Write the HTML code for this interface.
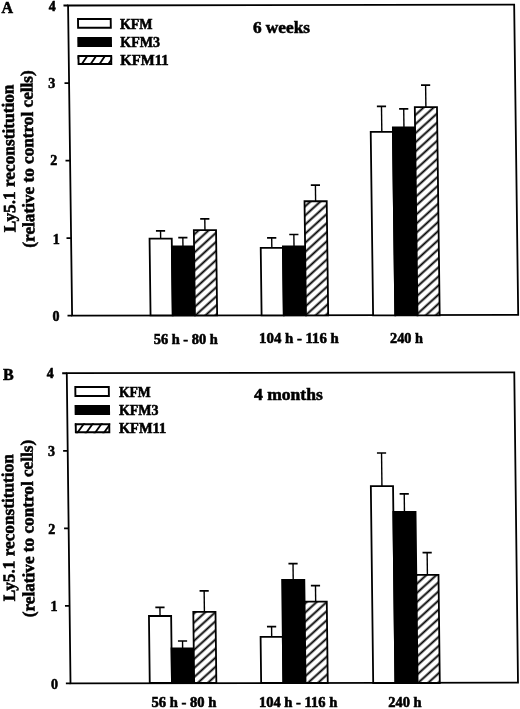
<!DOCTYPE html>
<html><head><meta charset="utf-8"><title>Ly5.1 reconstitution</title>
<style>
html,body{margin:0;padding:0;background:#fff;}
body{width:520px;height:709px;overflow:hidden;}
svg{display:block;will-change:transform;}
text{font-family:"Liberation Serif",serif;font-weight:bold;fill:#000;stroke:#000;stroke-width:0.55px;}
</style></head>
<body>
<svg width="520" height="709" viewBox="0 0 520 709">
<defs>
<pattern id="hatch" patternUnits="userSpaceOnUse" width="20" height="6.7" patternTransform="rotate(-42)">
<rect x="0" y="0" width="20" height="6.7" fill="#fff"/>
<line x1="0" y1="3.35" x2="20" y2="3.35" stroke="#000" stroke-width="1.9"/>
</pattern>
<pattern id="lhatch" patternUnits="userSpaceOnUse" width="20" height="6.6" patternTransform="rotate(-50)">
<rect x="0" y="0" width="20" height="6.6" fill="#fff"/>
<line x1="0" y1="3.3" x2="20" y2="3.3" stroke="#000" stroke-width="1.7"/>
</pattern>
</defs>
<rect width="520" height="709" fill="#fff"/>
<g transform="matrix(1,0,0.0130,1,-4.099,0)">
<g transform="matrix(1,-0.00180,0,1,0,0.531)">
<rect x="72.1" y="5.1" width="446.1" height="310.2" fill="none" stroke="#000" stroke-width="1.8"/>
<line x1="67.5" y1="315.3" x2="72.1" y2="315.3" stroke="#000" stroke-width="1.8"/>
<line x1="67.5" y1="237.75" x2="72.1" y2="237.75" stroke="#000" stroke-width="1.8"/>
<line x1="67.5" y1="160.2" x2="72.1" y2="160.2" stroke="#000" stroke-width="1.8"/>
<line x1="67.5" y1="82.65" x2="72.1" y2="82.65" stroke="#000" stroke-width="1.8"/>
<line x1="67.5" y1="5.1" x2="72.1" y2="5.1" stroke="#000" stroke-width="1.8"/>
</g>
<line x1="161.65" y1="230.9" x2="161.65" y2="238.7" stroke="#000" stroke-width="1.4"/>
<line x1="157.05" y1="230.9" x2="166.25" y2="230.9" stroke="#000" stroke-width="1.7"/>
<rect x="150.55" y="238.7" width="22.2" height="76.6" fill="#fff" stroke="#000" stroke-width="1.8"/>
<line x1="183.85" y1="237.7" x2="183.85" y2="246.3" stroke="#000" stroke-width="1.4"/>
<line x1="179.25" y1="237.7" x2="188.45" y2="237.7" stroke="#000" stroke-width="1.7"/>
<rect x="172.75" y="246.3" width="22.2" height="69" fill="#000" stroke="#000" stroke-width="1.8"/>
<line x1="206.05" y1="218.8" x2="206.05" y2="230.1" stroke="#000" stroke-width="1.4"/>
<line x1="201.45" y1="218.8" x2="210.65" y2="218.8" stroke="#000" stroke-width="1.7"/>
<rect x="194.95" y="230.1" width="22.2" height="85.2" fill="url(#hatch)" stroke="#000" stroke-width="1.8"/>
<line x1="272.7" y1="237.8" x2="272.7" y2="247.8" stroke="#000" stroke-width="1.4"/>
<line x1="268.1" y1="237.8" x2="277.3" y2="237.8" stroke="#000" stroke-width="1.7"/>
<rect x="261.6" y="247.8" width="22.2" height="67.5" fill="#fff" stroke="#000" stroke-width="1.8"/>
<line x1="294.9" y1="234.5" x2="294.9" y2="246.5" stroke="#000" stroke-width="1.4"/>
<line x1="290.3" y1="234.5" x2="299.5" y2="234.5" stroke="#000" stroke-width="1.7"/>
<rect x="283.8" y="246.5" width="22.2" height="68.8" fill="#000" stroke="#000" stroke-width="1.8"/>
<line x1="317.1" y1="185.1" x2="317.1" y2="201.25" stroke="#000" stroke-width="1.4"/>
<line x1="312.5" y1="185.1" x2="321.7" y2="185.1" stroke="#000" stroke-width="1.7"/>
<rect x="306" y="201.25" width="22.2" height="114.05" fill="url(#hatch)" stroke="#000" stroke-width="1.8"/>
<line x1="384.2" y1="106.3" x2="384.2" y2="131.8" stroke="#000" stroke-width="1.4"/>
<line x1="379.6" y1="106.3" x2="388.8" y2="106.3" stroke="#000" stroke-width="1.7"/>
<rect x="373.1" y="131.8" width="22.2" height="183.5" fill="#fff" stroke="#000" stroke-width="1.8"/>
<line x1="406.4" y1="108.8" x2="406.4" y2="127.4" stroke="#000" stroke-width="1.4"/>
<line x1="401.8" y1="108.8" x2="411" y2="108.8" stroke="#000" stroke-width="1.7"/>
<rect x="395.3" y="127.4" width="22.2" height="187.9" fill="#000" stroke="#000" stroke-width="1.8"/>
<line x1="428.6" y1="85.2" x2="428.6" y2="107.2" stroke="#000" stroke-width="1.4"/>
<line x1="424" y1="85.2" x2="433.2" y2="85.2" stroke="#000" stroke-width="1.7"/>
<rect x="417.5" y="107.2" width="22.2" height="208.1" fill="url(#hatch)" stroke="#000" stroke-width="1.8"/>
<rect x="81.85" y="19.05" width="32.7" height="8.7" fill="#fff" stroke="#000" stroke-width="1.9"/>
<rect x="80.9" y="37" width="34.6" height="10.1" fill="#000"/>
<clipPath id="lcA"><rect x="80.9" y="55" width="34.6" height="10"/></clipPath>
<g clip-path="url(#lcA)" stroke="#000" stroke-width="1.8">
<line x1="72.35" y1="69.7" x2="85.55" y2="50.5"/>
<line x1="81.2" y1="69.7" x2="94.4" y2="50.5"/>
<line x1="90.05" y1="69.7" x2="103.25" y2="50.5"/>
<line x1="98.9" y1="69.7" x2="112.1" y2="50.5"/>
<line x1="107.75" y1="69.7" x2="120.95" y2="50.5"/>
<line x1="116.6" y1="69.7" x2="129.8" y2="50.5"/>
<line x1="125.45" y1="69.7" x2="138.65" y2="50.5"/>
</g>
<rect x="81.85" y="55.95" width="32.7" height="8.1" fill="none" stroke="#000" stroke-width="1.9"/>
<text text-anchor="middle" style="font-size:17.2px" transform="translate(16.5,158.35) rotate(-90)" textLength="147.65" lengthAdjust="spacingAndGlyphs">Ly5.1 reconstitution</text>
<text text-anchor="middle" style="font-size:17.2px" transform="translate(35.5,158.95) rotate(-90)">(relative to control cells)</text>
</g>
<g transform="matrix(1,0,0.0120,1,-8.196,0)">
<g transform="matrix(1,-0.00190,0,1,0,0.560)">
<rect x="70.5" y="372.8" width="447.5" height="310.2" fill="none" stroke="#000" stroke-width="1.8"/>
<line x1="65.9" y1="683" x2="70.5" y2="683" stroke="#000" stroke-width="1.8"/>
<line x1="65.9" y1="605.45" x2="70.5" y2="605.45" stroke="#000" stroke-width="1.8"/>
<line x1="65.9" y1="527.9" x2="70.5" y2="527.9" stroke="#000" stroke-width="1.8"/>
<line x1="65.9" y1="450.35" x2="70.5" y2="450.35" stroke="#000" stroke-width="1.8"/>
<line x1="65.9" y1="372.8" x2="70.5" y2="372.8" stroke="#000" stroke-width="1.8"/>
</g>
<line x1="160.85" y1="607.4" x2="160.85" y2="616" stroke="#000" stroke-width="1.4"/>
<line x1="156.25" y1="607.4" x2="165.45" y2="607.4" stroke="#000" stroke-width="1.7"/>
<rect x="149.75" y="616" width="22.2" height="67" fill="#fff" stroke="#000" stroke-width="1.8"/>
<line x1="183.05" y1="641" x2="183.05" y2="648.5" stroke="#000" stroke-width="1.4"/>
<line x1="178.45" y1="641" x2="187.65" y2="641" stroke="#000" stroke-width="1.7"/>
<rect x="171.95" y="648.5" width="22.2" height="34.5" fill="#000" stroke="#000" stroke-width="1.8"/>
<line x1="205.25" y1="590.8" x2="205.25" y2="611.8" stroke="#000" stroke-width="1.4"/>
<line x1="200.65" y1="590.8" x2="209.85" y2="590.8" stroke="#000" stroke-width="1.7"/>
<rect x="194.15" y="611.8" width="22.2" height="71.2" fill="url(#hatch)" stroke="#000" stroke-width="1.8"/>
<line x1="272.25" y1="626.7" x2="272.25" y2="636.8" stroke="#000" stroke-width="1.4"/>
<line x1="267.65" y1="626.7" x2="276.85" y2="626.7" stroke="#000" stroke-width="1.7"/>
<rect x="261.15" y="636.8" width="22.2" height="46.2" fill="#fff" stroke="#000" stroke-width="1.8"/>
<line x1="294.45" y1="563.6" x2="294.45" y2="580" stroke="#000" stroke-width="1.4"/>
<line x1="289.85" y1="563.6" x2="299.05" y2="563.6" stroke="#000" stroke-width="1.7"/>
<rect x="283.35" y="580" width="22.2" height="103" fill="#000" stroke="#000" stroke-width="1.8"/>
<line x1="316.65" y1="585.6" x2="316.65" y2="601.6" stroke="#000" stroke-width="1.4"/>
<line x1="312.05" y1="585.6" x2="321.25" y2="585.6" stroke="#000" stroke-width="1.7"/>
<rect x="305.55" y="601.6" width="22.2" height="81.4" fill="url(#hatch)" stroke="#000" stroke-width="1.8"/>
<line x1="384.3" y1="453" x2="384.3" y2="486.2" stroke="#000" stroke-width="1.4"/>
<line x1="379.7" y1="453" x2="388.9" y2="453" stroke="#000" stroke-width="1.7"/>
<rect x="373.2" y="486.2" width="22.2" height="196.8" fill="#fff" stroke="#000" stroke-width="1.8"/>
<line x1="406.5" y1="493.9" x2="406.5" y2="511.8" stroke="#000" stroke-width="1.4"/>
<line x1="401.9" y1="493.9" x2="411.1" y2="493.9" stroke="#000" stroke-width="1.7"/>
<rect x="395.4" y="511.8" width="22.2" height="171.2" fill="#000" stroke="#000" stroke-width="1.8"/>
<line x1="428.7" y1="552.6" x2="428.7" y2="574.8" stroke="#000" stroke-width="1.4"/>
<line x1="424.1" y1="552.6" x2="433.3" y2="552.6" stroke="#000" stroke-width="1.7"/>
<rect x="417.6" y="574.8" width="22.2" height="108.2" fill="url(#hatch)" stroke="#000" stroke-width="1.8"/>
<rect x="78.85" y="387.05" width="33.5" height="8.9" fill="#fff" stroke="#000" stroke-width="1.9"/>
<rect x="77.9" y="405" width="35.4" height="10" fill="#000"/>
<clipPath id="lcB"><rect x="77.9" y="423.3" width="35.4" height="9.9"/></clipPath>
<g clip-path="url(#lcB)" stroke="#000" stroke-width="1.8">
<line x1="68.05" y1="437.5" x2="81.25" y2="419.5"/>
<line x1="76.9" y1="437.5" x2="90.1" y2="419.5"/>
<line x1="85.75" y1="437.5" x2="98.95" y2="419.5"/>
<line x1="94.6" y1="437.5" x2="107.8" y2="419.5"/>
<line x1="103.45" y1="437.5" x2="116.65" y2="419.5"/>
<line x1="112.3" y1="437.5" x2="125.5" y2="419.5"/>
<line x1="121.15" y1="437.5" x2="134.35" y2="419.5"/>
</g>
<rect x="78.85" y="424.25" width="33.5" height="8" fill="none" stroke="#000" stroke-width="1.9"/>
<text text-anchor="middle" style="font-size:17.2px" transform="translate(15.9,527.75) rotate(-90)" textLength="147.25" lengthAdjust="spacingAndGlyphs">Ly5.1 reconstitution</text>
<text text-anchor="middle" style="font-size:17.2px" transform="translate(35.4,528.5) rotate(-90)">(relative to control cells)</text>
</g>
<text x="1.5" y="12.85" style="font-size:16px">A</text>
<text x="48.7" y="11.2" style="font-size:14px">4</text>
<text x="48.3" y="88.25" style="font-size:14px">3</text>
<text x="50.3" y="165.2" style="font-size:14px">2</text>
<text x="52.7" y="243.75" style="font-size:14px">1</text>
<text x="52.5" y="321" style="font-size:14px">0</text>
<text x="119.9" y="28.95" style="font-size:14px">KFM</text>
<text x="120.3" y="46.95" style="font-size:14px">KFM3</text>
<text x="120.3" y="65.45" style="font-size:14px" textLength="48.34" lengthAdjust="spacingAndGlyphs">KFM11</text>
<text x="252.9" y="32.65" style="font-size:17px" textLength="57.11" lengthAdjust="spacingAndGlyphs">6 weeks</text>
<text x="153.7" y="343.75" style="font-size:14px" textLength="64.04" lengthAdjust="spacingAndGlyphs">56 h - 80 h</text>
<text x="259.1" y="343.15" style="font-size:14px" textLength="79.75" lengthAdjust="spacingAndGlyphs">104 h - 116 h</text>
<text x="390.1" y="343.4" style="font-size:14px" textLength="32.9" lengthAdjust="spacingAndGlyphs">240 h</text>
<text x="3.1" y="380.35" style="font-size:16px">B</text>
<text x="46.7" y="378.35" style="font-size:14px">4</text>
<text x="47.9" y="456.4" style="font-size:14px">3</text>
<text x="48.3" y="533.6" style="font-size:14px">2</text>
<text x="50.5" y="611.45" style="font-size:14px">1</text>
<text x="51.1" y="689.05" style="font-size:14px">0</text>
<text x="118.9" y="396.6" style="font-size:14px" textLength="31.86" lengthAdjust="spacingAndGlyphs">KFM</text>
<text x="118.9" y="415" style="font-size:14px">KFM3</text>
<text x="118.9" y="432.6" style="font-size:14px" textLength="47.29" lengthAdjust="spacingAndGlyphs">KFM11</text>
<text x="254.1" y="399.6" style="font-size:17px" textLength="68.63" lengthAdjust="spacingAndGlyphs">4 months</text>
<text x="151.5" y="707.25" style="font-size:14px" textLength="64.84" lengthAdjust="spacingAndGlyphs">56 h - 80 h</text>
<text x="258.9" y="706.95" style="font-size:14px" textLength="78.39" lengthAdjust="spacingAndGlyphs">104 h - 116 h</text>
<text x="388.3" y="707.1" style="font-size:14px" textLength="33.31" lengthAdjust="spacingAndGlyphs">240 h</text>
</svg>
</body></html>
